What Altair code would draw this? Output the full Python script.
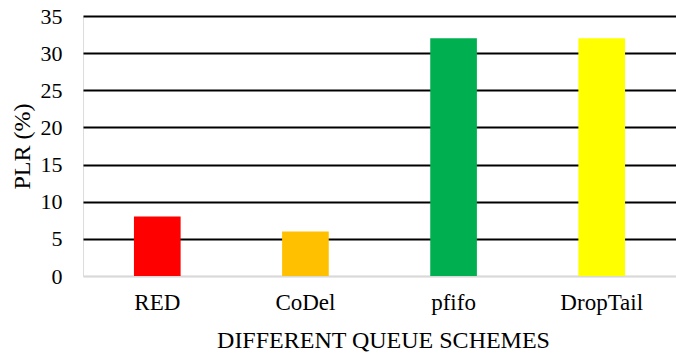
import altair as alt
import pandas as pd

# Packet loss ratio per queue scheme
schemes = ["RED", "CoDel", "pfifo", "DropTail"]
plr = [8, 6, 32, 32]
colors = ["#FF0000", "#FFC000", "#00B050", "#FFFF00"]

df = pd.DataFrame({"scheme": schemes, "plr": plr})

FONT = "'Liberation Serif', 'Times New Roman', Times, serif"

chart = (
    alt.Chart(df)
    .mark_bar()
    .encode(
        x=alt.X(
            "scheme:N",
            sort=schemes,
            scale=alt.Scale(paddingInner=0.685, paddingOuter=0.344),
            axis=alt.Axis(
                title="DIFFERENT QUEUE SCHEMES",
                labelAngle=0,
                ticks=False,
                labelPadding=15,
                labelFontSize=23,
                labelColor="#000000",
                labelFont=FONT,
                domain=True,
                domainColor="#d9d9d9",
                domainWidth=1.5,
                titleFont=FONT,
                titleFontSize=24,
                titleFontWeight="normal",
                titleColor="#000000",
                titleBaseline="alphabetic",
                titleY=71,
                titleX=300,
            ),
        ),
        y=alt.Y(
            "plr:Q",
            scale=alt.Scale(domain=[0, 35], nice=False),
            axis=alt.Axis(
                title="PLR (%)",
                values=[0, 5, 10, 15, 20, 25, 30, 35],
                ticks=False,
                domain=False,
                labelPadding=21,
                labelFontSize=22,
                labelColor="#000000",
                labelFont=FONT,
                grid=True,
                gridColor={
                    "condition": {"test": "datum.value === 0", "value": "#d9d9d9"},
                    "value": "#000000",
                },
                gridWidth=2,
                titleFont=FONT,
                titleFontSize=24,
                titleFontWeight="normal",
                titleColor="#000000",
                titleAngle=-90,
                titleAlign="center",
                titleBaseline="middle",
                titleX=-61,
                titleY=130,
            ),
        ),
        color=alt.Color(
            "scheme:N",
            sort=schemes,
            scale=alt.Scale(domain=schemes, range=colors),
            legend=None,
        ),
    )
    .properties(
        width=593,
        height=260,
        autosize=alt.AutoSizeParams(type="none"),
        padding={"left": 83, "top": 16, "right": 0, "bottom": 77},
    )
    .configure_view(stroke=None)
    .configure(background="#ffffff", font=FONT)
)

chart.save("out.html", embed_options={"renderer": "svg", "actions": False})
